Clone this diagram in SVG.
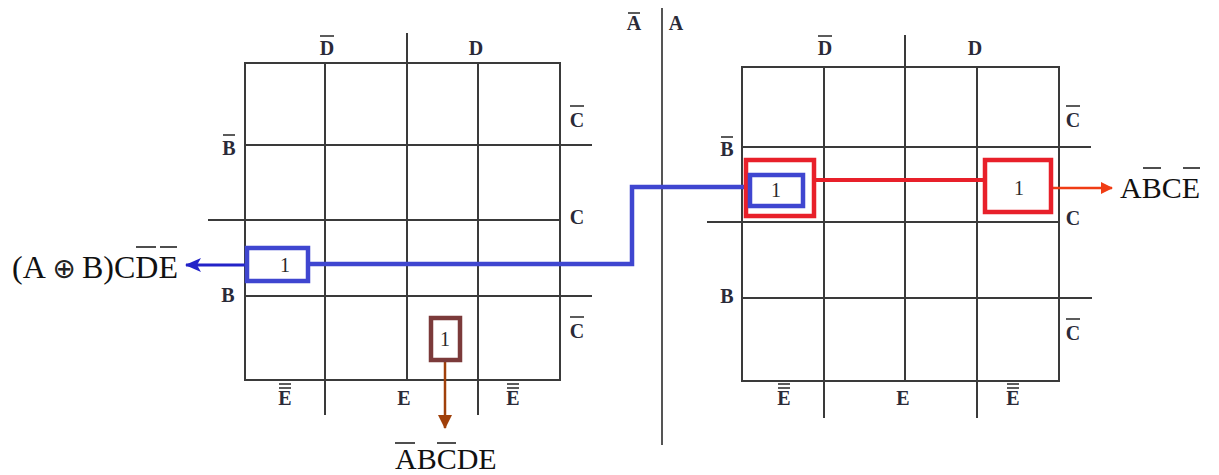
<svg xmlns="http://www.w3.org/2000/svg" width="1219" height="475" viewBox="0 0 1219 475">
<style>
.g{stroke:#3a3a3a;stroke-width:2;fill:none}
.lbl{font-family:"Liberation Serif","Times New Roman",serif;font-size:20px;font-weight:bold;fill:#2a2a38;text-anchor:middle}
.one{font-family:"Liberation Serif","Times New Roman",serif;font-size:20px;fill:#2a2a2a;text-anchor:middle}
.expr{font-family:"Liberation Serif","Times New Roman","DejaVu Serif",serif;font-size:30px;fill:#111}
.big{font-size:32px}
.bar{stroke:#222;stroke-width:1.6}
.sbar{stroke:#333;stroke-width:1.6}
</style>
<defs>
<marker id="ab" markerWidth="16" markerHeight="14" refX="15" refY="7" orient="auto" markerUnits="userSpaceOnUse"><path d="M0,0 L16,7 L0,14 L4,7 Z" fill="#2323c8"/></marker>
<marker id="ao" markerWidth="12" markerHeight="12" refX="11" refY="6" orient="auto" markerUnits="userSpaceOnUse"><path d="M0,0 L12,6 L0,12 Z" fill="#f03c14"/></marker>
<marker id="abr" markerWidth="14" markerHeight="14" refX="13" refY="7" orient="auto" markerUnits="userSpaceOnUse"><path d="M0,0 L14,7 L0,14 Z" fill="#a0400a"/></marker>
</defs>
<rect width="1219" height="475" fill="#fff"/>

<g id="divider">
<line x1="662" y1="8" x2="662" y2="445" stroke="#555" stroke-width="2"/>
<text class="lbl" x="634" y="30">A</text><line class="sbar" x1="628" y1="13" x2="640" y2="13"/>
<text class="lbl" x="676" y="30">A</text>
</g>

<g id="kmap-left">
<rect class="g" x="245" y="63" width="315" height="317"/>
<line class="g" x1="325" y1="63" x2="325" y2="415"/>
<line class="g" x1="407" y1="33" x2="407" y2="380"/>
<line class="g" x1="478" y1="63" x2="478" y2="415"/>
<line class="g" x1="245" y1="145" x2="592" y2="145"/>
<line class="g" x1="208" y1="220" x2="560" y2="220"/>
<line class="g" x1="245" y1="296" x2="592" y2="296"/>
<text class="lbl" x="327" y="55">D</text><line class="sbar" x1="320" y1="36" x2="334" y2="36"/>
<text class="lbl" x="476" y="55">D</text>
<text class="lbl" x="577" y="127">C</text><line class="sbar" x1="570" y1="106" x2="584" y2="106"/>
<text class="lbl" x="577" y="224">C</text>
<text class="lbl" x="577" y="338">C</text><line class="sbar" x1="570" y1="317" x2="584" y2="317"/>
<text class="lbl" x="229" y="155">B</text><line class="sbar" x1="223" y1="135" x2="235" y2="135"/>
<text class="lbl" x="228" y="302">B</text>
<text class="lbl" x="285" y="405">E</text><line class="sbar" x1="279" y1="384" x2="291" y2="384"/><line class="sbar" x1="279" y1="388" x2="291" y2="388"/>
<text class="lbl" x="404" y="405">E</text>
<text class="lbl" x="513" y="405">E</text><line class="sbar" x1="507" y1="384" x2="519" y2="384"/><line class="sbar" x1="507" y1="388" x2="519" y2="388"/>
</g>

<g id="kmap-right">
<rect class="g" x="742" y="67" width="317" height="314"/>
<line class="g" x1="824" y1="67" x2="824" y2="418"/>
<line class="g" x1="905" y1="35" x2="905" y2="381"/>
<line class="g" x1="977" y1="67" x2="977" y2="418"/>
<line class="g" x1="742" y1="147" x2="1091" y2="147"/>
<line class="g" x1="707" y1="222" x2="1059" y2="222"/>
<line class="g" x1="742" y1="298" x2="1092" y2="298"/>
<text class="lbl" x="825" y="55">D</text><line class="sbar" x1="818" y1="36" x2="832" y2="36"/>
<text class="lbl" x="975" y="55">D</text>
<text class="lbl" x="1073" y="127">C</text><line class="sbar" x1="1066" y1="106" x2="1080" y2="106"/>
<text class="lbl" x="1073" y="225">C</text>
<text class="lbl" x="1073" y="340">C</text><line class="sbar" x1="1066" y1="319" x2="1080" y2="319"/>
<text class="lbl" x="727" y="156">B</text><line class="sbar" x1="721" y1="137" x2="733" y2="137"/>
<text class="lbl" x="727" y="303">B</text>
<text class="lbl" x="784" y="405">E</text><line class="sbar" x1="778" y1="384" x2="790" y2="384"/><line class="sbar" x1="778" y1="388" x2="790" y2="388"/>
<text class="lbl" x="903" y="405">E</text>
<text class="lbl" x="1013" y="405">E</text><line class="sbar" x1="1007" y1="384" x2="1019" y2="384"/><line class="sbar" x1="1007" y1="388" x2="1019" y2="388"/>
</g>

<g id="connectors" fill="none">
<path d="M309,264 H632 V187 H748" stroke="#3f46d0" stroke-width="4.5"/>
<line x1="245" y1="265" x2="186" y2="265" stroke="#2323c8" stroke-width="3" marker-end="url(#ab)"/>
<line x1="815" y1="180" x2="985" y2="180" stroke="#e8202a" stroke-width="4"/>
<line x1="1052" y1="188" x2="1112" y2="188" stroke="#f03c14" stroke-width="2.5" marker-end="url(#ao)"/>
<line x1="445" y1="361" x2="445" y2="428" stroke="#a0400a" stroke-width="2.5" marker-end="url(#abr)"/>
</g>

<g id="cell-left-blue">
<rect x="247" y="248" width="61" height="33" fill="#fff" stroke="#3f46d0" stroke-width="4.5"/>
<text class="one" x="285" y="272">1</text>
</g>
<g id="cell-left-brown">
<rect x="431" y="318" width="29" height="42" fill="#fff" stroke="#7b3a3a" stroke-width="4.5"/>
<text class="one" x="445" y="346">1</text>
</g>
<g id="cell-right-red">
<rect x="746" y="160" width="68" height="56" fill="#fff" stroke="#e8202a" stroke-width="4.5"/>
</g>
<g id="cell-right-blue">
<rect x="750" y="175" width="53" height="31" fill="#fff" stroke="#3f46d0" stroke-width="4.5"/>
<text class="one" x="776" y="197">1</text>
</g>
<g id="cell-right-red2">
<rect x="985" y="160" width="66" height="52" fill="#fff" stroke="#e8202a" stroke-width="4.5"/>
<text class="one" x="1019" y="195">1</text>
</g>

<g id="expr-left">
<text class="expr big" x="12" y="278">(A</text>
<text x="64" y="278" font-family="DejaVu Sans, sans-serif" font-size="28" fill="#222" text-anchor="middle">⊕</text>
<text class="expr big" x="178" y="278" text-anchor="end">B)CDE</text>
<line class="bar" x1="136" y1="247" x2="156" y2="247"/>
<line class="bar" x1="160" y1="247" x2="177" y2="247"/>
</g>
<g id="expr-right">
<text class="expr" x="1120" y="198">ABCE</text>
<line class="bar" x1="1143" y1="168" x2="1161" y2="168"/>
<line class="bar" x1="1183" y1="168" x2="1200" y2="168"/>
</g>
<g id="expr-bottom">
<text class="expr" x="395" y="469">ABCDE</text>
<line class="bar" x1="395" y1="443" x2="415" y2="443"/>
<line class="bar" x1="437" y1="443" x2="456" y2="443"/>
</g>
</svg>
